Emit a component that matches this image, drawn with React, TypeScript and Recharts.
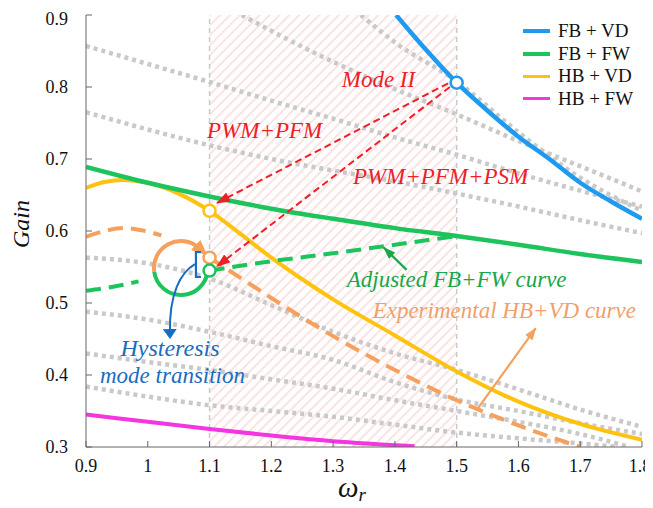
import { LineChart, Line, XAxis, YAxis, ReferenceArea, ReferenceLine, ReferenceDot } from 'recharts'

type Pt = [number, number]

const xTicks = [0.9, 1, 1.1, 1.2, 1.3, 1.4, 1.5, 1.6, 1.7, 1.8]
const yTicks = [0.3, 0.4, 0.5, 0.6, 0.7, 0.8, 0.9]

// gain curves as [ω_r, gain]
const fbVd: Pt[] = [[1.402, 0.9], [1.45, 0.852], [1.5, 0.806], [1.55, 0.767], [1.6, 0.731], [1.65, 0.7], [1.7, 0.667], [1.75, 0.641], [1.8, 0.617]]
const fbFw: Pt[] = [[0.9, 0.689], [1.0, 0.667], [1.1, 0.648], [1.2, 0.631], [1.3, 0.617], [1.4, 0.604], [1.5, 0.593], [1.6, 0.581], [1.7, 0.568], [1.8, 0.557]]
const hbVd: Pt[] = [[0.9, 0.66], [0.93, 0.668], [0.96, 0.671], [1.0, 0.667], [1.05, 0.652], [1.1, 0.628], [1.15, 0.596], [1.2, 0.563], [1.25, 0.533], [1.3, 0.505], [1.4, 0.455], [1.5, 0.405], [1.6, 0.363], [1.7, 0.332], [1.8, 0.31]]
const hbFw: Pt[] = [[0.9, 0.345], [1.0, 0.335], [1.1, 0.325], [1.2, 0.316], [1.3, 0.308], [1.432, 0.301]]

// experimental HB+VD and adjusted FB+FW (dashed)
const expHbVdA: Pt[] = [[0.9, 0.592], [0.93, 0.6], [0.96, 0.604], [0.99, 0.601], [1.022, 0.594]]
const expHbVdB: Pt[] = [[1.1, 0.563], [1.15, 0.535], [1.2, 0.507], [1.3, 0.454], [1.4, 0.407], [1.5, 0.365], [1.6, 0.33], [1.7, 0.3]]
const adjFbFwA: Pt[] = [[0.9, 0.517], [0.94, 0.522], [0.985, 0.53]]
const adjFbFwB: Pt[] = [[1.1, 0.545], [1.2, 0.558], [1.3, 0.569], [1.4, 0.581], [1.5, 0.593]]

// background gain contours (gray dotted)
const bgA: Pt[] = [[1.152, 0.9], [1.2, 0.878], [1.3, 0.835], [1.4, 0.797], [1.5, 0.762], [1.6, 0.725], [1.7, 0.69], [1.8, 0.655]]
const bgB: Pt[] = [[1.345, 0.9], [1.4, 0.862], [1.5, 0.808], [1.6, 0.737], [1.7, 0.674], [1.8, 0.628]]
const bgC: Pt[] = [[0.9, 0.857], [1.0, 0.832], [1.1, 0.807], [1.2, 0.781], [1.3, 0.756], [1.4, 0.73], [1.5, 0.706], [1.6, 0.68], [1.7, 0.656], [1.8, 0.634]]
const bgD: Pt[] = [[0.9, 0.765], [1.0, 0.741], [1.1, 0.719], [1.2, 0.7], [1.3, 0.684], [1.4, 0.669], [1.5, 0.652], [1.6, 0.634], [1.7, 0.615], [1.8, 0.597]]
const bgE: Pt[] = [[0.9, 0.563], [1.0, 0.555], [1.1, 0.534], [1.2, 0.497], [1.3, 0.46], [1.4, 0.43], [1.5, 0.407], [1.6, 0.38], [1.7, 0.352], [1.8, 0.328]]
const bgF: Pt[] = [[0.9, 0.488], [1.0, 0.477], [1.1, 0.46], [1.2, 0.44], [1.3, 0.421], [1.4, 0.39], [1.5, 0.366], [1.6, 0.35], [1.7, 0.333], [1.8, 0.318]]
const bgG: Pt[] = [[0.9, 0.43], [1.0, 0.418], [1.1, 0.407], [1.2, 0.394], [1.3, 0.381], [1.4, 0.365], [1.5, 0.35], [1.6, 0.335], [1.7, 0.318], [1.78, 0.3]]
const bgH: Pt[] = [[0.9, 0.384], [1.0, 0.37], [1.1, 0.358], [1.2, 0.35], [1.3, 0.342], [1.4, 0.331], [1.5, 0.32], [1.6, 0.312], [1.7, 0.305], [1.76, 0.3]]
const bgCurves = [bgA, bgB, bgC, bgD, bgE, bgF, bgG, bgH]

const legendNames = ['FB + VD', 'FB + FW', 'HB + VD', 'HB + FW']

const BLUE = '#1e9bf0'
const GREEN = '#1dc35c'
const YELLOW = '#ffc20e'
const MAGENTA = '#f535e0'
const ORANGE = '#f5a05c'
const GRAY = '#c9c9c9'
const RED = '#ee2027'
const legendColors = [BLUE, GREEN, YELLOW, MAGENTA]

const SERIF = "'Liberation Serif', 'Times New Roman', serif"

const rows = (pts: Pt[]) => pts.map(([w, g]) => ({ w, g }))

const fmtX = (v: number) => (v === 1 ? '1' : v.toFixed(1))
const fmtY = (v: number) => v.toFixed(1)

// italic annotation text anchored at a data point
const note = (text: string, color: string, size: number, anchor: 'start' | 'middle' = 'start') => (p: any) => (
  <text x={p.cx} y={p.cy} fill={color} style={{ fontFamily: SERIF, fontStyle: 'italic', fontSize: size }} textAnchor={anchor}>
    {text}
  </text>
)

const arrow = (color: string, width: number, marker: string, dash?: string) => (p: any) => (
  <line x1={p.x1} y1={p.y1} x2={p.x2} y2={p.y2} stroke={color} strokeWidth={width}
    strokeDasharray={dash} markerEnd={`url(#${marker})`} />
)

const openDot = (color: string) => (p: any) => (
  <circle cx={p.cx} cy={p.cy} r={6} fill="#fff" stroke={color} strokeWidth={2.5} />
)

// circular hysteresis symbol with bracket and pointer, drawn around its centre
const hysteresis = (p: any) => {
  const { cx, cy } = p
  const r = 27
  const pt = (deg: number) => {
    const a = (deg * Math.PI) / 180
    return `${cx + r * Math.cos(a)},${cy + r * Math.sin(a)}`
  }
  return (
    <g>
      <path d={`M${pt(172)} A${r},${r} 0 0 1 ${pt(312)}`} fill="none" stroke={ORANGE} strokeWidth={4} markerEnd="url(#arrOrangeBig)" />
      <path d={`M${pt(6)} A${r},${r} 0 0 1 ${pt(172)}`} fill="none" stroke={GREEN} strokeWidth={4} />
      <path d={`M${cx + 20},${cy - 16} L${cx + 15},${cy - 16} L${cx + 15},${cy + 9} L${cx + 20},${cy + 9}`} fill="none" stroke="#1a6cc0" strokeWidth={2.2} />
      <path d={`M${cx + 14},${cy - 4} C${cx},${cy + 4} ${cx - 12},${cy + 25} ${cx - 11},${cy + 66}`} fill="none" stroke="#1a6cc0" strokeWidth={2} markerEnd="url(#arrBlue)" />
    </g>
  )
}

// bottom tick label; the last one is nudged so it stays inside the frame
const XTick = (p: any) => {
  const v = p.payload.value
  return (
    <text x={p.x - (v === 1.8 ? 2 : 0)} y={p.y} dy="0.71em" textAnchor="middle" fill="#111" style={{ fontFamily: SERIF, fontSize: 18 }}>
      {fmtX(v)}
    </text>
  )
}

const tickStyle = { fill: '#111', fontSize: 18, style: { fontFamily: SERIF } }

export default function App() {
  return (
    <div style={{ position: 'relative', width: 645, height: 500, fontFamily: SERIF }}>
      <LineChart width={645} height={500} margin={{ top: 7, right: 11, left: 0, bottom: 0 }} style={{ fontFamily: SERIF }}>
        <defs>
          <pattern id="hatch" width="7" height="7" patternUnits="userSpaceOnUse" patternTransform="rotate(45)">
            <line x1="1" y1="0" x2="1" y2="7" stroke="#fad4d4" strokeWidth="1.3" />
          </pattern>
          <marker id="arrRed" viewBox="0 0 14 10" refX="13" refY="5" markerWidth="14" markerHeight="10" markerUnits="userSpaceOnUse" orient="auto">
            <path d="M0,0 L14,5 L0,10 z" fill={RED} />
          </marker>
          <marker id="arrGreen" viewBox="0 0 14 10" refX="13" refY="5" markerWidth="13" markerHeight="9" markerUnits="userSpaceOnUse" orient="auto">
            <path d="M0,0 L14,5 L0,10 z" fill="#1aa64a" />
          </marker>
          <marker id="arrOrange" viewBox="0 0 14 10" refX="13" refY="5" markerWidth="13" markerHeight="9" markerUnits="userSpaceOnUse" orient="auto">
            <path d="M0,0 L14,5 L0,10 z" fill={ORANGE} />
          </marker>
          <marker id="arrOrangeBig" viewBox="0 0 14 12" refX="4" refY="6" markerWidth="16" markerHeight="14" markerUnits="userSpaceOnUse" orient="auto">
            <path d="M0,0 L14,6 L0,12 z" fill={ORANGE} />
          </marker>
          <marker id="arrBlue" viewBox="0 0 10 14" refX="5" refY="7" markerWidth="10" markerHeight="14" markerUnits="userSpaceOnUse" orient="auto">
            <path d="M0,0 L10,7 L0,14 z" fill="#1a6cc0" />
          </marker>
        </defs>

        <XAxis dataKey="w" type="number" domain={[0.9, 1.8]} ticks={xTicks} allowDataOverflow
          height={61} tickSize={-6} tickMargin={18}
          axisLine={{ stroke: '#666' }} tickLine={{ stroke: '#666' }} tick={XTick} />
        <XAxis xAxisId="top" orientation="top" type="number" domain={[0.9, 1.8]} ticks={xTicks} allowDataOverflow
          height={0} tickSize={-6} tick={false} axisLine={{ stroke: '#666' }} tickLine={{ stroke: '#666' }} />
        <YAxis type="number" domain={[0.3, 0.9]} ticks={yTicks} allowDataOverflow
          tickFormatter={fmtY} width={78} tickSize={-6} tickMargin={24}
          axisLine={{ stroke: '#666' }} tickLine={{ stroke: '#666' }} tick={tickStyle} />
        <YAxis yAxisId="right" orientation="right" type="number" domain={[0.3, 0.9]} ticks={yTicks} allowDataOverflow
          width={0} tickSize={-6} tick={false} axisLine={{ stroke: '#666' }} tickLine={{ stroke: '#666' }} />

        <ReferenceArea x1={1.1} x2={1.5} y1={0.3} y2={0.9} fill="url(#hatch)" fillOpacity={1} stroke="none" />
        <ReferenceLine x={1.1} stroke={GRAY} strokeWidth={1.5} strokeDasharray="5 4" />
        <ReferenceLine x={1.5} stroke={GRAY} strokeWidth={1.5} strokeDasharray="5 4" />

        {bgCurves.map((c, i) => (
          <Line key={i} data={rows(c)} dataKey="g" type="monotone" stroke={GRAY} strokeWidth={4.5}
            strokeDasharray="4 4" dot={false} isAnimationActive={false} />
        ))}

        <Line data={rows(hbFw)} dataKey="g" type="monotone" stroke={MAGENTA} strokeWidth={4} dot={false} isAnimationActive={false} />
        <Line data={rows(expHbVdA)} dataKey="g" type="monotone" stroke={ORANGE} strokeWidth={4} strokeDasharray="15 8" dot={false} isAnimationActive={false} />
        <Line data={rows(expHbVdB)} dataKey="g" type="monotone" stroke={ORANGE} strokeWidth={4} strokeDasharray="15 8" dot={false} isAnimationActive={false} />
        <Line data={rows(hbVd)} dataKey="g" type="monotone" stroke={YELLOW} strokeWidth={4} dot={false} isAnimationActive={false} />
        <Line data={rows(adjFbFwA)} dataKey="g" type="monotone" stroke={GREEN} strokeWidth={4} strokeDasharray="15 8" dot={false} isAnimationActive={false} />
        <Line data={rows(adjFbFwB)} dataKey="g" type="monotone" stroke={GREEN} strokeWidth={4} strokeDasharray="15 8" dot={false} isAnimationActive={false} />
        <Line data={rows(fbFw)} dataKey="g" type="monotone" stroke={GREEN} strokeWidth={4.5} dot={false} isAnimationActive={false} />
        <Line data={rows(fbVd)} dataKey="g" type="monotone" stroke={BLUE} strokeWidth={4.5} dot={false} isAnimationActive={false} />

        {/* mode transition pointers */}
        <ReferenceLine segment={[{ x: 1.486, y: 0.805 }, { x: 1.112, y: 0.639 }]} shape={arrow(RED, 2, 'arrRed', '7 4')} />
        <ReferenceLine segment={[{ x: 1.489, y: 0.8 }, { x: 1.112, y: 0.551 }]} shape={arrow(RED, 2, 'arrRed', '7 4')} />
        <ReferenceLine segment={[{ x: 1.419, y: 0.546 }, { x: 1.382, y: 0.577 }]} shape={arrow('#1aa64a', 2.2, 'arrGreen')} />
        <ReferenceLine segment={[{ x: 1.532, y: 0.351 }, { x: 1.628, y: 0.465 }]} shape={arrow(ORANGE, 2.2, 'arrOrange')} />

        <ReferenceDot x={1.0537} y={0.5486} r={0} shape={hysteresis} />

        <ReferenceDot x={1.1} y={0.628} r={6} shape={openDot(YELLOW)} />
        <ReferenceDot x={1.1} y={0.563} r={6} shape={openDot(ORANGE)} />
        <ReferenceDot x={1.1} y={0.545} r={6} shape={openDot(GREEN)} />
        <ReferenceDot x={1.5} y={0.806} r={6} shape={openDot(BLUE)} />

        <ReferenceDot x={1.314} y={0.8} r={0} shape={note('Mode II', RED, 23)} />
        <ReferenceDot x={1.096} y={0.729} r={0} shape={note('PWM+PFM', RED, 23)} />
        <ReferenceDot x={1.332} y={0.665} r={0} shape={note('PWM+PFM+PSM', RED, 23)} />
        <ReferenceDot x={1.322} y={0.522} r={0} shape={note('Adjusted FB+FW curve', '#1aa64a', 23)} />
        <ReferenceDot x={1.364} y={0.479} r={0} shape={note('Experimental HB+VD curve', '#f0a06a', 23)} />
        <ReferenceDot x={1.036} y={0.426} r={0} shape={note('Hysteresis', '#1a6cc0', 24, 'middle')} />
        <ReferenceDot x={1.04} y={0.389} r={0} shape={note('mode transition', '#1a6cc0', 23, 'middle')} />
      </LineChart>

      {/* axis titles */}
      <svg width={645} height={500} style={{ position: 'absolute', left: 0, top: 0, pointerEvents: 'none', fontFamily: SERIF }}>
        <text x={21} y={216} transform="rotate(-90 21 216)" textAnchor="middle" style={{ fontStyle: 'italic', fontSize: 24 }} fill="#111">Gain</text>
        <text x={330} y={489} style={{ fontStyle: 'italic', fontSize: 29 }} fill="#111">
          ω<tspan style={{ fontSize: 19 }} dy={4}>r</tspan>
        </text>
      </svg>

      {/* legend */}
      <div style={{ position: 'absolute', left: 515, top: 12, fontSize: 19, color: '#111' }}>
        {legendNames.map((name, i) => (
          <div key={name} style={{ display: 'flex', alignItems: 'center', height: 22.5 }}>
            <span style={{ display: 'inline-block', width: 27, height: i < 2 ? 4 : 3, background: legendColors[i], marginRight: 8 }} />
            {name}
          </div>
        ))}
      </div>
    </div>
  )
}
